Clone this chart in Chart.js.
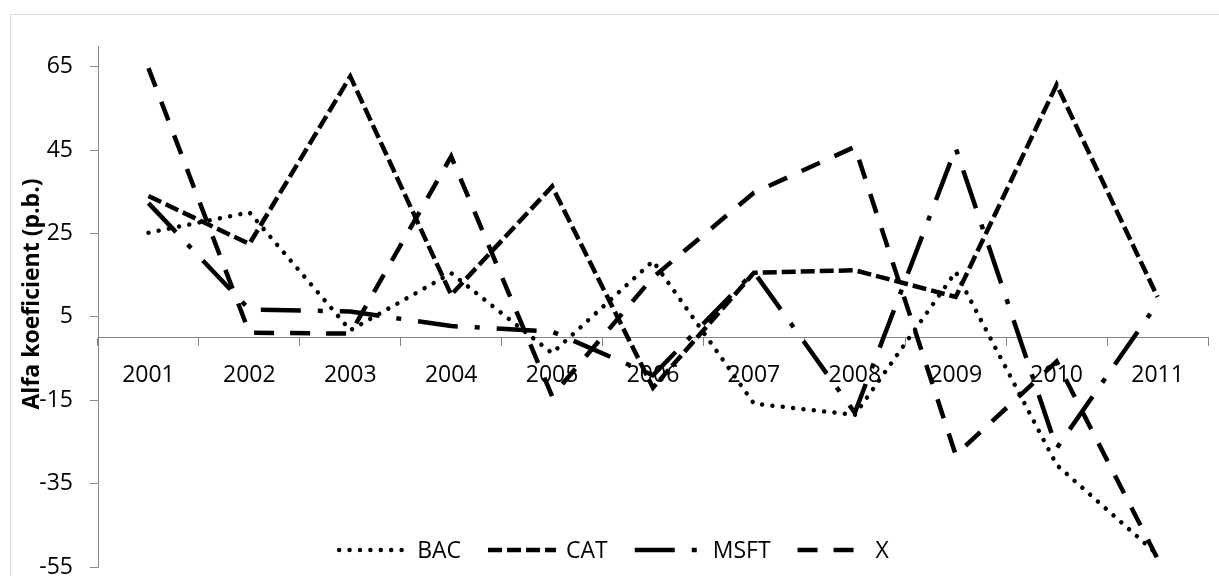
<!DOCTYPE html>
<html>
<head>
<meta charset="utf-8">
<title>Alfa koeficient</title>
<script src="https://cdn.jsdelivr.net/npm/chart.js@4.4.1/dist/chart.umd.min.js"></script>
<style>
  html, body { margin: 0; padding: 0; background: #ffffff; }
  #wrap { width: 1219px; height: 576px; position: relative; }
</style>
</head>
<body>
<div id="wrap"><canvas id="chart" width="1219" height="576"></canvas></div>
<script>
// Years on the category axis
const years = ['2001', '2002', '2003', '2004', '2005', '2006', '2007', '2008', '2009', '2010', '2011'];

// Alpha coefficient per year (basis points)
const bacValues  = [25.2, 30.1, 1.8, 15.5, -3.7, 18.4, -15.8, -18.5, 15.8, -30.5, -52.0];
const catValues  = [34.0, 22.5, 62.7, 10.3, 36.3, -12.0, 15.6, 16.2, 9.8, 60.7, 9.8];
const msftValues = [32.3, 6.8, 6.3, 2.8, 1.5, -9.0, 15.8, -18.0, 45.5, -26.5, 8.3];
const xValues    = [64.7, 1.2, 1.0, 43.5, -14.0, 14.5, 34.8, 45.8, -28.1, -5.7, -53.0];

// Value axis tick labels
const yTicks = [-55, -35, -15, 5, 25, 45, 65];

const yTitle = 'Alfa koeficient (p.b.)';

const AXIS_GREY = '#868686';
const FONT_FAMILY = "'Open Sans', 'Liberation Sans', sans-serif";

// White page with the light frame round the chart object
const framePlugin = {
  id: 'frame',
  beforeDraw(chart) {
    const ctx = chart.ctx;
    ctx.save();
    ctx.fillStyle = '#ffffff';
    ctx.fillRect(0, 0, chart.width, chart.height);
    ctx.strokeStyle = '#d9d9d9';
    ctx.lineWidth = 1;
    ctx.strokeRect(10.5, 14.5, 1240, 600);
    ctx.restore();
  }
};

// Rotated value-axis title, set a little above the middle of the axis
const axisTitlePlugin = {
  id: 'axisTitle',
  afterDraw(chart) {
    const ctx = chart.ctx;
    ctx.save();
    ctx.translate(32, 294);
    ctx.rotate(-Math.PI / 2);
    ctx.font = 'bold 23px ' + FONT_FAMILY;
    ctx.fillStyle = '#000000';
    ctx.textAlign = 'center';
    ctx.textBaseline = 'middle';
    ctx.fillText(yTitle, 0, 0);
    ctx.restore();
  }
};

// Legend row: a stretch of each series' own line style followed by its name
const lineLegend = {
  id: 'lineLegend',
  afterDraw(chart) {
    const ctx = chart.ctx;
    const sample = 68, gap = 10, spacing = 27, cy = 550, cx = 614;
    ctx.save();
    ctx.font = '23px ' + FONT_FAMILY;
    const items = chart.data.datasets.map(ds => ({ ds, w: ctx.measureText(ds.label).width }));
    const total = items.reduce((s, it) => s + sample + gap + it.w, 0) + spacing * (items.length - 1);
    let x = cx - total / 2;
    items.forEach(it => {
      ctx.beginPath();
      ctx.setLineDash(it.ds.borderDash);
      ctx.lineCap = it.ds.borderCapStyle;
      ctx.lineWidth = it.ds.borderWidth;
      ctx.strokeStyle = '#000000';
      ctx.moveTo(x, cy);
      ctx.lineTo(x + sample, cy);
      ctx.stroke();
      ctx.setLineDash([]);
      ctx.fillStyle = '#000000';
      ctx.textBaseline = 'middle';
      ctx.textAlign = 'left';
      ctx.fillText(it.ds.label, x + sample + gap, cy + 1);
      x += sample + gap + it.w + spacing;
    });
    ctx.restore();
  }
};

function series(label, data, dash, cap) {
  return {
    label,
    data,
    borderColor: '#000000',
    backgroundColor: '#000000',
    borderWidth: 4.5,
    borderDash: dash,
    borderCapStyle: cap,
    borderJoinStyle: 'miter',
    pointRadius: 0,
    pointHoverRadius: 0,
    tension: 0,
    fill: false
  };
}

function draw() {
  Chart.defaults.font.family = FONT_FAMILY;
  Chart.defaults.font.size = 23;
  Chart.defaults.color = '#000000';

  new Chart(document.getElementById('chart'), {
    type: 'line',
    data: {
      labels: years,
      datasets: [
        series('BAC', bacValues, [0.01, 10.4], 'round'),
        series('CAT', catValues, [14, 5], 'butt'),
        series('MSFT', msftValues, [40, 17, 5, 17], 'butt'),
        series('X', xValues, [20, 16], 'butt')
      ]
    },
    options: {
      responsive: false,
      animation: false,
      devicePixelRatio: 1,
      layout: { padding: { left: 0, top: 46, right: 11, bottom: 9 } },
      plugins: {
        legend: { display: false },
        tooltip: { enabled: false },
        title: { display: false }
      },
      scales: {
        x: {
          type: 'category',
          position: { y: 0 },
          offset: true,
          afterFit(scale) {
            // the category axis sits on the zero line, inside the plot
            scale.height = 0;
          },
          grid: {
            display: true,
            offset: true,
            drawOnChartArea: false,
            drawTicks: true,
            tickLength: 8,
            color: AXIS_GREY,
            lineWidth: 1
          },
          border: { display: true, color: AXIS_GREY, width: 1 },
          ticks: { padding: 16, maxRotation: 0, autoSkip: false, color: '#000000', font: { size: 23 } }
        },
        y: {
          type: 'linear',
          min: -55,
          max: 70,
          afterBuildTicks(scale) {
            scale.ticks = yTicks.map(v => ({ value: v }));
          },
          afterFit(scale) {
            scale.width = 98;
            // the plot runs down to the bottom tick; no extra room below it
            scale.paddingTop = 0;
            scale.paddingBottom = 0;
          },
          grid: {
            display: true,
            drawOnChartArea: false,
            drawTicks: true,
            tickLength: 8,
            color: AXIS_GREY,
            lineWidth: 1
          },
          border: { display: true, color: AXIS_GREY, width: 1 },
          ticks: { padding: 17, color: '#000000', font: { size: 23 } }
        }
      }
    },
    plugins: [framePlugin, axisTitlePlugin, lineLegend]
  });
}

if (document.fonts && document.fonts.load) {
  Promise.all([
    document.fonts.load("23px 'Open Sans'"),
    document.fonts.load("bold 23px 'Open Sans'")
  ]).then(draw, draw);
} else {
  draw();
}
</script>
</body>
</html>
